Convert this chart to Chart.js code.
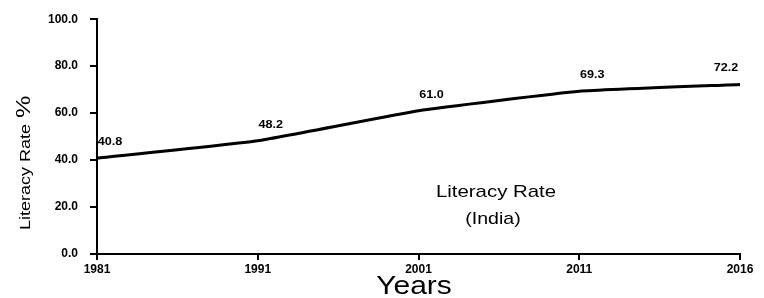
<!DOCTYPE html>
<html>
<head>
<meta charset="utf-8">
<script src="https://cdn.jsdelivr.net/npm/chart.js@4.4.1/dist/chart.umd.min.js"></script>
<style>
html, body { margin: 0; padding: 0; background: #fff; }
canvas { display: block; }
</style>
</head>
<body>
<canvas id="litChart" width="764" height="298"></canvas>
<script>
// data
const years = ['1981', '1991', '2001', '2011', '2016'];
const literacy = [40.8, 48.2, 61.0, 69.3, 72.2];
const yTitle = 'Literacy Rate';
const xTitle = 'Years';
const noteLines = ['Literacy Rate', '(India)'];

const FONT = '"Liberation Sans", Arial, sans-serif';

// scanned text is wider than plain Arial, so stretch it a bit
function wideText(ctx, text, x, y, font, sx, align, rot) {
    ctx.save();
    ctx.translate(x, y);
    if (rot) ctx.rotate(rot);
    ctx.scale(sx, 1);
    ctx.font = font;
    ctx.fillStyle = '#000';
    ctx.textAlign = align || 'center';
    ctx.textBaseline = 'middle';
    ctx.fillText(text, 0, 0);
    ctx.restore();
}

const textPlugin = {
    id: 'textPlugin',
    afterDatasetsDraw(chart) {
        const ctx = chart.ctx;
        const area = chart.chartArea;

        // value labels above each point
        chart.getDatasetMeta(0).data.forEach((pt, i) => {
            const x = Math.min(pt.x + 13, area.right - 14);
            wideText(ctx, literacy[i].toFixed(1), x, pt.y - 16, 'bold 10.5px ' + FONT, 1.2);
        });

        // y axis title, reads bottom to top
        ctx.save();
        ctx.translate(26, 230);
        ctx.rotate(-Math.PI / 2);
        ctx.scale(1.2, 1);
        ctx.fillStyle = '#000';
        ctx.textBaseline = 'middle';
        ctx.textAlign = 'left';
        ctx.font = '15px ' + FONT;
        ctx.fillText(yTitle, 0, 0);
        const tw = ctx.measureText(yTitle).width;
        ctx.font = '21px ' + FONT;
        ctx.fillText('%', tw + 5, -2);
        ctx.restore();

        // x axis title
        wideText(ctx, xTitle, 414, 287, '25px ' + FONT, 1.2);

        // note inside the plot
        wideText(ctx, noteLines[0], 496, 192, '17px ' + FONT, 1.2);
        wideText(ctx, noteLines[1], 493, 219, '17px ' + FONT, 1.15);
    }
};

new Chart(document.getElementById('litChart'), {
    type: 'line',
    data: {
        labels: years,
        datasets: [{
            data: literacy,
            borderColor: '#000',
            borderWidth: 3,
            pointRadius: 0,
            tension: 0.12,
            fill: false
        }]
    },
    options: {
        responsive: false,
        animation: false,
        devicePixelRatio: 1,
        layout: { padding: { top: 17, right: 24, left: 0, bottom: 0 } },
        plugins: { legend: { display: false }, tooltip: { enabled: false } },
        scales: {
            x: {
                type: 'category',
                offset: false,
                afterFit: s => { s.height = 44; },
                ticks: {
                    color: '#000',
                    font: { family: FONT, size: 12, weight: 'bold' },
                    padding: 2,
                    maxRotation: 0,
                    autoSkip: false
                },
                grid: { drawOnChartArea: false, tickLength: 6, color: '#000', lineWidth: 2 },
                border: { color: '#000', width: 2 }
            },
            y: {
                min: 0,
                max: 100,
                afterFit: s => { s.width = 97; },
                ticks: {
                    stepSize: 20,
                    callback: v => Number(v).toFixed(1),
                    color: '#000',
                    font: { family: FONT, size: 12, weight: 'bold' },
                    padding: 12
                },
                grid: { drawOnChartArea: false, tickLength: 7, color: '#000', lineWidth: 2 },
                border: { color: '#000', width: 2 }
            }
        }
    },
    plugins: [textPlugin]
});
</script>
</body>
</html>
